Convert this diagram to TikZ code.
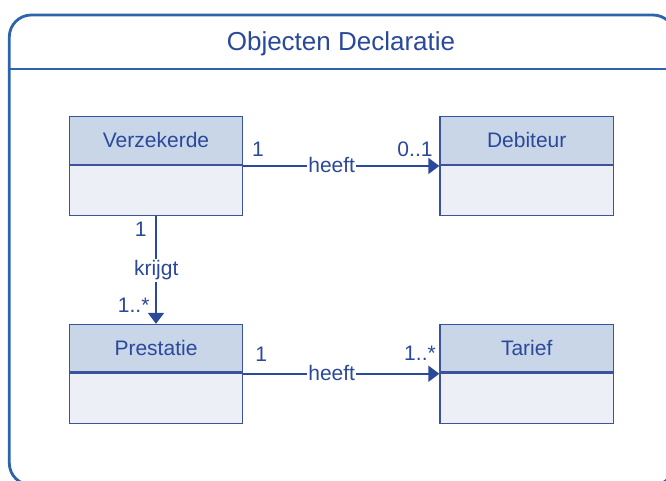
\documentclass[tikz,border=0pt]{standalone}
\usepackage{fontspec}
\setmainfont{Liberation Sans}
\usetikzlibrary{arrows.meta}
\definecolor{framecol}{RGB}{46,100,174}
\definecolor{inkcol}{RGB}{43,73,155}
\definecolor{boxline}{RGB}{58,82,160}
\definecolor{headfill}{RGB}{200,214,232}
\definecolor{bodyfill}{RGB}{236,240,246}
\tikzset{
  classhead/.style={draw=boxline, line width=1.3pt, fill=headfill, minimum width=173.5pt, minimum height=47.6pt, inner sep=0pt, text=inkcol, font=\fontsize{21}{24}\selectfont},
  classbody/.style={draw=boxline, line width=1.3pt, fill=bodyfill, minimum width=173.5pt, minimum height=50pt, inner sep=0pt},
  assoc/.style={draw=inkcol, line width=1.8pt, -{Triangle[length=11pt 0,width=16pt 0]}},
  lbl/.style={text=inkcol, font=\fontsize{21}{24}\selectfont, inner sep=0pt, anchor=base},
  onlinelbl/.style={lbl, fill=white, inner xsep=1pt, inner ysep=1.5pt},
}
\begin{document}
\begin{tikzpicture}[x=1pt,y=-1pt]
\useasboundingbox (0,0) rectangle (666,481);
\fill[white] (0,0) rectangle (666,481);
\clip (0,0) rectangle (666,481);
% frame
\draw[framecol, line width=2.8pt, rounded corners=22pt] (9.3,15) rectangle (675,485);
\draw[framecol, line width=2.6pt] (9.3,69) -- (675,69);
\node[text=inkcol, font=\fontsize{26}{30}\selectfont, inner sep=0pt, anchor=base] (title) at (341,50.7) {Objecten Declaratie};
% classes
\node[classhead] (verz) at (156,140.5) {};
\node[lbl] (verzt) at (156,148) {Verzekerde};
\node[classbody, anchor=north] (verzb) at (verz.south) {};
\node[classhead] (debi) at (526.7,140.5) {};
\node[lbl] (debit) at (526.7,148) {Debiteur};
\node[classbody, anchor=north] (debib) at (debi.south) {};
\node[classhead] (pres) at (156,348.3) {};
\node[lbl] (prest) at (156,355) {Prestatie};
\node[classbody, anchor=north] (presb) at (pres.south) {};
\node[classhead] (tari) at (526.7,348.3) {};
\node[lbl] (tarit) at (526.7,355) {Tarief};
\node[classbody, anchor=north] (tarib) at (tari.south) {};
% connectors
\draw[assoc] ([yshift=-1pt]verz.south east) -- ([yshift=-1pt]debi.south west);
\draw[assoc] (verzb.south) -- (pres.north);
\draw[assoc] ([yshift=-1pt]pres.south east) -- ([yshift=-1pt]tari.south west);
% labels
\node[lbl] (m1) at (258,156.7) {1};
\node[lbl] (m2) at (415,156.3) {0..1};
\node[onlinelbl] (a1) at (331.7,172.7) {heeft};
\node[lbl] (m3) at (140.7,236.7) {1};
\node[onlinelbl] (a2) at (156.2,275.7) {krijgt};
\node[lbl] (m4) at (133.7,312.7) {1..*};
\node[lbl] (m5) at (261.3,361.7) {1};
\node[lbl] (m6) at (420,360.7) {1..*};
\node[onlinelbl] (a3) at (331.7,380) {heeft};
\end{tikzpicture}
\end{document}
